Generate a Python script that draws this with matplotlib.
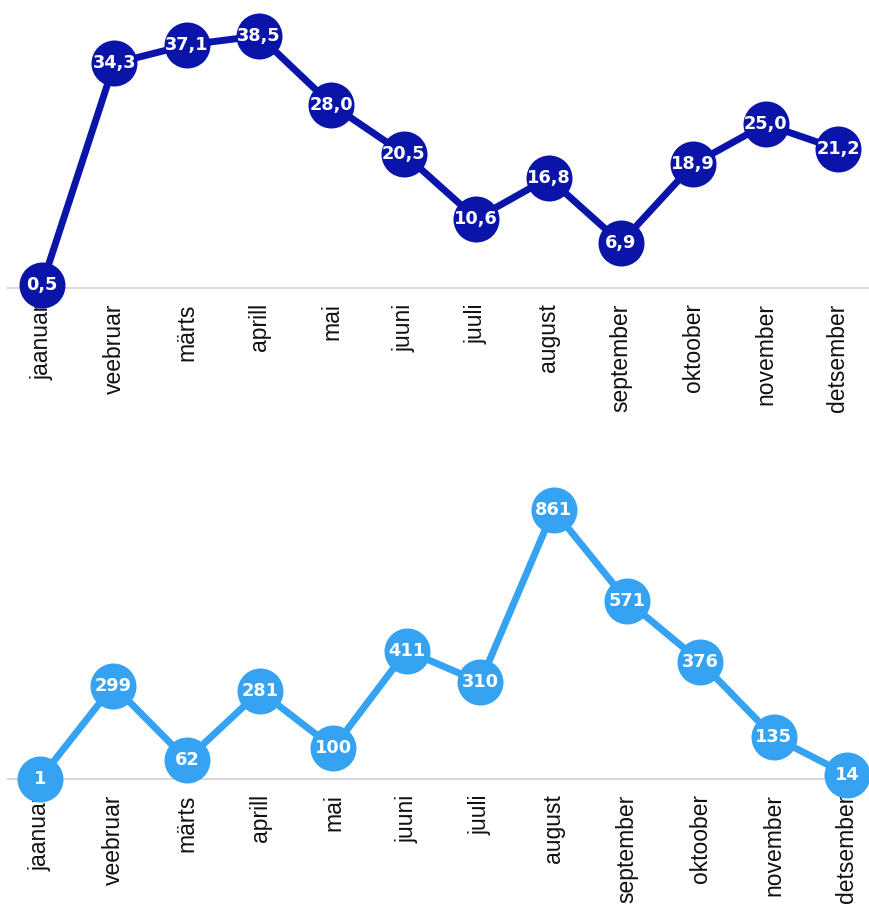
import matplotlib
matplotlib.use("Agg")
import matplotlib.pyplot as plt

months = ["jaanuar", "veebruar", "märts", "aprill", "mai", "juuni", "juuli",
          "august", "september", "oktoober", "november", "detsember"]
top_values = [0.5, 34.3, 37.1, 38.5, 28.0, 20.5, 10.6, 16.8, 6.9, 18.9, 25.0, 21.2]
bottom_values = [1, 299, 62, 281, 100, 411, 310, 861, 571, 376, 135, 14]

top_color = "#0a14a8"
bottom_color = "#35a2f2"

W, H = 869, 907
fig = plt.figure(figsize=(W / 100, H / 100), dpi=100)


def px_axes(left, right, top, bottom):
    return fig.add_axes([left / W, 1 - bottom / H, (right - left) / W, (bottom - top) / H])


def draw(ax, values, color, labels_fmt, xlim, ylim):
    x = list(range(len(values)))
    ax.plot(x, values, color=color, lw=5, zorder=3, clip_on=False, solid_capstyle="round")
    ax.scatter(x, values, s=(46 * 0.72) ** 2, color=color, zorder=4, clip_on=False, linewidths=0)
    for xi, v in zip(x, values):
        ax.text(xi, v, labels_fmt(v), color="white", fontsize=12.8, fontweight="bold",
                ha="center", va="center", zorder=5, family="DejaVu Sans")
    ax.set_xlim(*xlim)
    ax.set_ylim(*ylim)
    ax.set_xticks(x)
    ax.set_xticklabels(months, rotation=90, fontsize=16.5, family=["Liberation Sans", "DejaVu Sans"],
                       color="#111111")
    ax.tick_params(axis="x", length=0, pad=11)
    ax.set_yticks([])
    for s in ["top", "right", "left"]:
        ax.spines[s].set_visible(False)
    ax.spines["bottom"].set_color("#d9d9d9")
    ax.spines["bottom"].set_linewidth(1.5)
    ax.spines["bottom"].set_zorder(1)
    ax.patch.set_alpha(0)


ax1 = px_axes(8, 869, 0, 288)
draw(ax1, top_values, top_color, lambda v: f"{v:.1f}".replace(".", ","),
     ((8 - 42) / 72.36, (869 - 42) / 72.36), (0, 288 / 6.55))

ax2 = px_axes(8, 869, 460, 779)
draw(ax2, bottom_values, bottom_color, lambda v: f"{v:d}",
     ((8 - 40) / 73.36, (869 - 40) / 73.36), (0, (779 - 460) / 0.3124))

fig.savefig("out.png", dpi=100, facecolor="white")
